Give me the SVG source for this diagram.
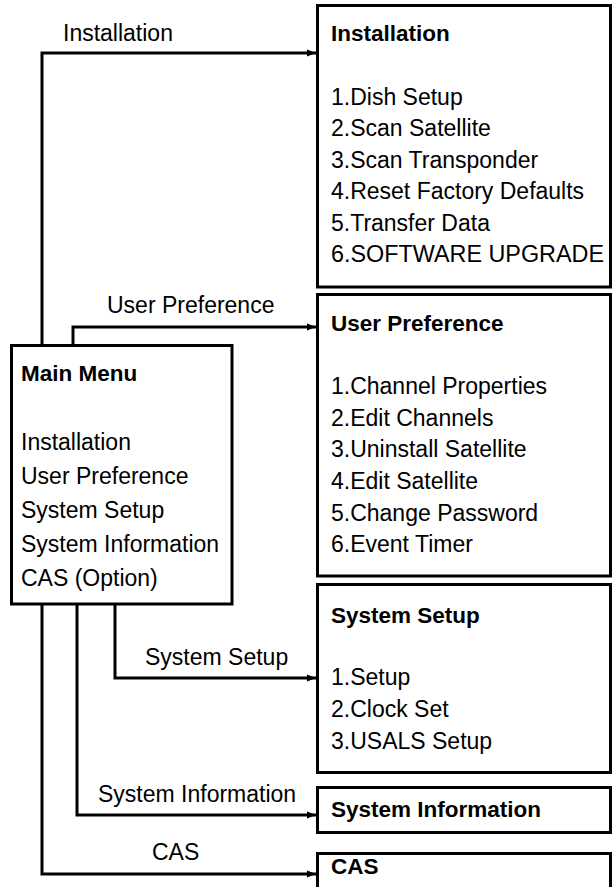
<svg xmlns="http://www.w3.org/2000/svg" width="613" height="887" viewBox="0 0 613 887">
<defs>
<style>
text{font-family:"Liberation Sans",Arial,Helvetica,sans-serif;font-size:23px;fill:#000}
.t{font-weight:bold;font-size:22.5px}
.box{fill:#fff;stroke:#000;stroke-width:3}
.c{fill:none;stroke:#000;stroke-width:3;stroke-linejoin:miter;marker-end:url(#ah)}
</style>
<marker id="ah" markerUnits="userSpaceOnUse" markerWidth="10" markerHeight="8" refX="9" refY="4" orient="auto">
<path d="M0,0.5 L9,4 L0,7.5 z" fill="#000"/>
</marker>
</defs>
<rect width="613" height="887" fill="#fff"/>
<g id="connectors">
<path class="c" d="M42,345 V53 H316"/>
<text x="63" y="41">Installation</text>
<path class="c" d="M73,345 V327 H316"/>
<text x="107" y="313">User Preference</text>
<path class="c" d="M115,604 V678 H316"/>
<text x="145" y="665">System Setup</text>
<path class="c" d="M77,604 V815 H316"/>
<text x="98" y="802">System Information</text>
<path class="c" d="M42,604 V874 H316"/>
<text x="152" y="860">CAS</text>
</g>
<g id="main-menu">
<rect class="box" x="11.5" y="345.5" width="220.5" height="258.5"/>
<text class="t" x="21" y="381">Main Menu</text>
<text x="21" y="449.5">Installation</text>
<text x="21" y="483.5">User Preference</text>
<text x="21" y="517.5">System Setup</text>
<text x="21" y="551.5">System Information</text>
<text x="21" y="585.5">CAS (Option)</text>
</g>
<g id="installation">
<rect class="box" x="317.5" y="5.5" width="293" height="281.5"/>
<text class="t" x="331" y="41">Installation</text>
<text x="331" y="104.5">1.Dish Setup</text>
<text x="331" y="136">2.Scan Satellite</text>
<text x="331" y="167.5">3.Scan Transponder</text>
<text x="331" y="199">4.Reset Factory Defaults</text>
<text x="331" y="230.5">5.Transfer Data</text>
<text x="331" y="262" textLength="273" lengthAdjust="spacingAndGlyphs">6.SOFTWARE UPGRADE</text>
</g>
<g id="user-preference">
<rect class="box" x="317.5" y="294.5" width="293" height="281.5"/>
<text class="t" x="331" y="331">User Preference</text>
<text x="331" y="394">1.Channel Properties</text>
<text x="331" y="425.5">2.Edit Channels</text>
<text x="331" y="457">3.Uninstall Satellite</text>
<text x="331" y="489">4.Edit Satellite</text>
<text x="331" y="520.5">5.Change Password</text>
<text x="331" y="552">6.Event Timer</text>
</g>
<g id="system-setup">
<rect class="box" x="317.5" y="584.5" width="293" height="188"/>
<text class="t" x="331" y="623">System Setup</text>
<text x="331" y="685">1.Setup</text>
<text x="331" y="717">2.Clock Set</text>
<text x="331" y="749">3.USALS Setup</text>
</g>
<g id="system-information">
<rect class="box" x="317.5" y="787.5" width="293" height="45"/>
<text class="t" x="331" y="817">System Information</text>
</g>
<g id="cas">
<rect class="box" x="317.5" y="853.5" width="293" height="45"/>
<text class="t" x="331" y="874">CAS</text>
</g>
</svg>
